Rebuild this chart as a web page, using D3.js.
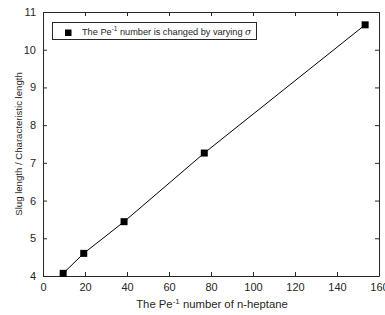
<!DOCTYPE html>
<html>
<head>
<meta charset="utf-8">
<script src="https://cdn.jsdelivr.net/npm/d3@7"></script>
<style>
  body { margin: 0; background: #fff; }
  svg { display: block; font-family: "Liberation Sans", Arial, sans-serif; }
</style>
</head>
<body>
<div id="wrapper"></div>
<script>
const width = 385
const height = 315
const margin = {top: 12, right: 6, bottom: 39, left: 43}

// data
const peInv = [9.6, 19.4, 38.6, 76.8, 153.4]
const slugLen = [4.07, 4.6, 5.44, 7.26, 10.66]
const xTicks = [0, 20, 40, 60, 80, 100, 120, 140, 160]
const yTicks = [4, 5, 6, 7, 8, 9, 10, 11]

const svg = d3.select("#wrapper").append("svg")
    .attr("width", width)
    .attr("height", height)

const x = d3.scaleLinear().domain([0, 160]).range([margin.left, width - margin.right])
const y = d3.scaleLinear().domain([4, 11]).range([height - margin.bottom, margin.top])

const tickColor = "#262626"
const fmt = d3.format("d")

// bottom / left axes with inward ticks
svg.append("g")
    .attr("transform", `translate(0,${y(4)})`)
    .call(d3.axisBottom(x).tickValues(xTicks).tickFormat(fmt).tickSizeInner(-4).tickSizeOuter(0).tickPadding(7))
    .call(g => g.select(".domain").attr("stroke", tickColor))
    .call(g => g.selectAll(".tick line").attr("stroke", tickColor))
    .call(g => g.selectAll("text").attr("font-size", 11).attr("fill", tickColor).attr("font-family", null))

svg.append("g")
    .attr("transform", `translate(${x(0)},0)`)
    .call(d3.axisLeft(y).tickValues(yTicks).tickFormat(fmt).tickSizeInner(-4).tickSizeOuter(0).tickPadding(7))
    .call(g => g.select(".domain").attr("stroke", tickColor))
    .call(g => g.selectAll(".tick line").attr("stroke", tickColor))
    .call(g => g.selectAll("text").attr("font-size", 11).attr("fill", tickColor).attr("font-family", null))

// top / right mirror axes
svg.append("g")
    .attr("transform", `translate(0,${y(11)})`)
    .call(d3.axisTop(x).tickValues(xTicks).tickSizeInner(-4).tickSizeOuter(0).tickFormat(""))
    .call(g => g.select(".domain").attr("stroke", tickColor))
    .call(g => g.selectAll(".tick line").attr("stroke", tickColor))

svg.append("g")
    .attr("transform", `translate(${x(160)},0)`)
    .call(d3.axisRight(y).tickValues(yTicks).tickSizeInner(-4).tickSizeOuter(0).tickFormat(""))
    .call(g => g.select(".domain").attr("stroke", tickColor))
    .call(g => g.selectAll(".tick line").attr("stroke", tickColor))

// axis labels
const xl = svg.append("text")
    .attr("x", (x(0) + x(160)) / 2 + 1)
    .attr("y", 308)
    .attr("text-anchor", "middle")
    .attr("font-size", 11.3)
    .attr("fill", tickColor)
xl.append("tspan").text("The Pe")
xl.append("tspan").attr("dy", -4).attr("font-size", 8).text("-1")
xl.append("tspan").attr("dy", 4).text(" number of n-heptane")

svg.append("text")
    .attr("transform", `translate(22,${(y(4) + y(11)) / 2}) rotate(-90)`)
    .attr("text-anchor", "middle")
    .attr("font-size", 9.6)
    .attr("fill", tickColor)
    .text("Slug length / Characteristic length")

// line + markers
const pts = peInv.map((d, i) => [d, slugLen[i]])

svg.append("path")
    .datum(pts)
    .attr("fill", "none")
    .attr("stroke", "#000")
    .attr("stroke-width", 1)
    .attr("d", d3.line().x(d => x(d[0])).y(d => y(d[1])))

svg.append("g")
    .selectAll("rect")
    .data(pts)
    .join("rect")
    .attr("x", d => x(d[0]) - 3.5)
    .attr("y", d => y(d[1]) - 3.5)
    .attr("width", 7)
    .attr("height", 7)
    .attr("fill", "#000")

// legend
const lg = svg.append("g")
lg.append("rect")
    .attr("x", 52.5).attr("y", 22.5)
    .attr("width", 204).attr("height", 17)
    .attr("fill", "#fff")
    .attr("stroke", tickColor)
    .attr("stroke-width", 1)
lg.append("rect")
    .attr("x", 65).attr("y", 29.5)
    .attr("width", 6.5).attr("height", 6.5)
    .attr("fill", "#000")
const lt = lg.append("text")
    .attr("x", 82).attr("y", 35)
    .attr("font-size", 9.2)
    .attr("fill", tickColor)
lt.append("tspan").text("The Pe")
lt.append("tspan").attr("dy", -4).attr("font-size", 6.5).text("-1")
lt.append("tspan").attr("dy", 4).text(" number is changed by varying ")
lt.append("tspan").attr("font-style", "italic").attr("font-family", "DejaVu Serif, serif").text("σ")
</script>
</body>
</html>
